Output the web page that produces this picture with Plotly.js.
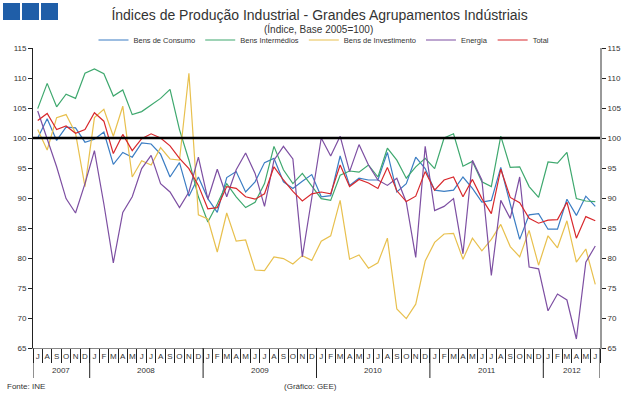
<!DOCTYPE html>
<html><head><meta charset="utf-8">
<script src="https://cdn.plot.ly/plotly-3.0.1.min.js"></script>
<style>body{margin:0;background:#fff}#chart{width:643px;height:397px}</style>
</head><body><div id="chart"></div>
<script>
const yearLabels = ['2007','2008','2009','2010','2011','2012'];
const monthsPerYear = [6,12,12,12,12,6];
const monthLetters = [
  'J','A','S','O','N','D',
  'J','F','M','A','M','J','J','A','S','O','N','D',
  'J','F','M','A','M','J','J','A','S','O','N','D',
  'J','F','M','A','M','J','J','A','S','O','N','D',
  'J','F','M','A','M','J','J','A','S','O','N','D',
  'J','F','M','A','M','J'
];
const bensConsumo = [
  100,103.2,99.6,101.8,101.7,99.3,99.8,101,95.6,97.6,96.8,99.2,99,97.3,93.5,
  95.9,90.3,93.5,89.9,87.6,93.4,94.4,91,92.7,95.9,96.6,92.7,91.6,92.8,93.9,
  90.2,90.4,97,92.1,93.3,93,93,97.6,91,92.4,96.8,94.9,91.3,91.1,91.3,
  93.5,91.6,89.3,89.6,95.1,89,83.1,87.2,87.4,84.8,84.8,89.8,87.1,90.3,88.6
];
const bensIntermedios = [
  104.9,109.1,105.2,107.3,106.6,110.8,111.5,110.7,107,108,103.9,104.4,105.5,106.6,108.1,
  101.4,96.3,90.2,86,89,92.4,90.2,88.4,89.3,92.4,98.6,94.7,92.4,94.1,92,
  89.9,89.6,93.8,94.5,94.3,95.5,93.5,98.3,96.3,93.3,95.2,96.6,94.9,100,100.7,
  95.3,96.1,92.7,91.9,100.3,95.1,95.2,91.9,90.1,96,95.8,97.6,89.9,89.5,89.4
];
const bensInvestimento = [
  101.4,98,103.4,103.9,100.8,91.9,103.4,104.8,100.3,105.3,93.5,96.2,95.5,98.4,96.5,
  96.3,110.8,87.2,86.5,81,87.5,82.8,83,78,77.9,80.2,79.9,79,80.4,79.6,
  82.8,83.7,89.6,79.8,80.5,78.3,79.2,83.3,71.5,69.9,72.3,79.5,82.6,84,84.1,
  79.8,83.3,81.2,83.1,85.6,81.9,80.2,84.6,78.8,83.7,81.7,86.2,79.3,81.5,75.6
];
const energia = [
  104.5,100,95.2,89.9,87.5,92.4,97.9,89,79.2,87.6,90.2,94.9,97.1,92.4,91,
  88.4,91,96.8,89.8,94.8,90.2,94.7,97.5,94.1,88.6,96.3,98.6,96.5,80.2,90,
  100,97,100.3,94.4,98.9,95.5,93,92.1,93.3,89.3,80.1,98.6,87.9,88.6,89.9,
  80.7,96.3,93,77.1,89.6,86.6,93.5,78.5,78.2,71.2,74,73,66.5,79.3,82
];
const total = [
  102.9,104.1,101.4,102,100.8,101.4,104.2,102.8,97.4,100.6,97.9,99.9,100.7,100,98.7,
  96.6,94.9,92.1,88.2,88.4,91.9,91.6,90.2,89.8,90.7,95.2,93,91.1,89.5,90.7,
  91,90.7,95.5,91.9,93.1,92.5,91.6,95.1,91.2,89.4,90.3,94.4,91.3,93,93.5,
  90.2,93.1,89.9,87.4,94.8,90.1,89.2,86.6,85.8,86.3,86.4,89.3,83.3,86.9,86.2
];
const seriesNames = ['Bens de Consumo','Bens Intermédios','Bens de Investimento','Energia','Total'];
const seriesColors = ['#3b7dc3','#3ea86e','#e8c04e','#7d4fa2','#d8282c'];

const xIdx = monthLetters.map((_, i) => i);
const allSeries = [bensConsumo, bensIntermedios, bensInvestimento, energia, total];
const font = 'Liberation Sans, Arial, sans-serif';

const traces = allSeries.map((s, i) => ({
  type: 'scatter', mode: 'lines', x: xIdx, y: s, name: seriesNames[i],
  line: {color: seriesColors[i], width: 1.2}
}));
traces.push({type:'scatter', mode:'lines', x: xIdx, y: total, yaxis:'y2',
  showlegend:false, hoverinfo:'skip', opacity:0, line:{width:0}});

// pixel helpers for decoration
const L = 33, R = 600, T = 48, B = 348;
const px = v => (v - L) / (R - L);
const py = v => (B - v) / (B - T);

// month separators (category boundaries) and year groups
const boundaries = [];
for (let i = 0; i <= monthLetters.length; i++) boundaries.push(i - 0.5);
const shapes = [
  {type:'line', xref:'paper', yref:'y', x0:0, x1:1, y0:100, y1:100, line:{color:'#000', width:2.5}, layer:'above'},
  {type:'rect', xref:'paper', yref:'paper', x0:px(3), x1:px(20), y0:py(20), y1:py(3), fillcolor:'#1f5ea8', line:{width:0}},
  {type:'rect', xref:'paper', yref:'paper', x0:px(22), x1:px(39), y0:py(20), y1:py(3), fillcolor:'#1f5ea8', line:{width:0}},
  {type:'rect', xref:'paper', yref:'paper', x0:px(41), x1:px(58), y0:py(20), y1:py(3), fillcolor:'#1f5ea8', line:{width:0}}
];
const annotations = [
  {text: '(Índice, Base 2005=100)', xref:'paper', yref:'paper', x: px(318), y: py(29),
    xanchor:'center', yanchor:'middle', showarrow:false, font:{size:10, color:'#333'}},
  {text: 'Fonte: INE', xref:'paper', yref:'paper', x: px(5), y: py(386),
    xanchor:'left', yanchor:'middle', showarrow:false, font:{size:8, color:'#333'}},
  {text: '(Gráfico: GEE)', xref:'paper', yref:'paper', x: px(310), y: py(386),
    xanchor:'center', yanchor:'middle', showarrow:false, font:{size:8, color:'#333'}}
];
let start = 0;
yearLabels.forEach((yr, gi) => {
  const end = start + monthsPerYear[gi];
  shapes.push({type:'line', xref:'x', yref:'paper', x0:start - 0.5, x1:start - 0.5,
    y0:py(348), y1:py(378), line:{color:'#222', width:1}});
  annotations.push({text: yr, xref:'x', yref:'paper', x:(start + end - 1) / 2, y: py(370),
    xanchor:'center', yanchor:'middle', showarrow:false, font:{size:8, color:'#333'}});
  start = end;
});
shapes.push({type:'line', xref:'x', yref:'paper', x0:start - 0.5, x1:start - 0.5,
  y0:py(348), y1:py(378), line:{color:'#222', width:1}});

const layout = {
  width: 643, height: 397,
  margin: {l: L, r: 643 - R, t: T, b: 397 - B},
  paper_bgcolor: '#fff', plot_bgcolor: '#fff',
  font: {family: font, size: 8, color: '#333'},
  title: {text: 'Índices de Produção Industrial - Grandes Agrupamentos Indústriais',
    font: {family: font, size: 14, color: '#333'}, x: 0.497, xanchor: 'center',
    y: 1 - 15/397, yanchor: 'middle', yref: 'container'},
  showlegend: true,
  legend: {orientation: 'h', x: px(324), xanchor: 'center', y: py(40), yanchor: 'middle',
    font: {size: 7.5, color: '#333'}, bgcolor: 'rgba(0,0,0,0)', itemwidth: 30},
  xaxis: {range: [-0.5, monthLetters.length - 0.5], tickmode: 'array', tickvals: xIdx, ticktext: monthLetters,
    ticks: '', showline: true, linecolor: '#888', linewidth: 1, showgrid: false, zeroline: false,
    tickfont: {size: 8, color: '#333'},
    minor: {tickmode: 'array', tickvals: boundaries, ticks: 'outside', ticklen: 14, tickcolor: '#222', showgrid: false}},
  yaxis: {range: [65, 115], dtick: 5, tick0: 65, showline: true, linecolor: '#222', linewidth: 1,
    ticks: 'outside', ticklen: 4, tickcolor: '#222', showgrid: false, zeroline: false,
    tickfont: {size: 8, color: '#333'}},
  yaxis2: {range: [65, 115], dtick: 5, tick0: 65, overlaying: 'y', side: 'right',
    showline: true, linecolor: '#999', linewidth: 2, ticks: 'outside', ticklen: 4, tickcolor: '#222',
    showgrid: false, zeroline: false, tickfont: {size: 8, color: '#333'}},
  shapes: shapes,
  annotations: annotations
};
Plotly.newPlot('chart', traces, layout, {displayModeBar: false, staticPlot: true});
</script></body></html>
